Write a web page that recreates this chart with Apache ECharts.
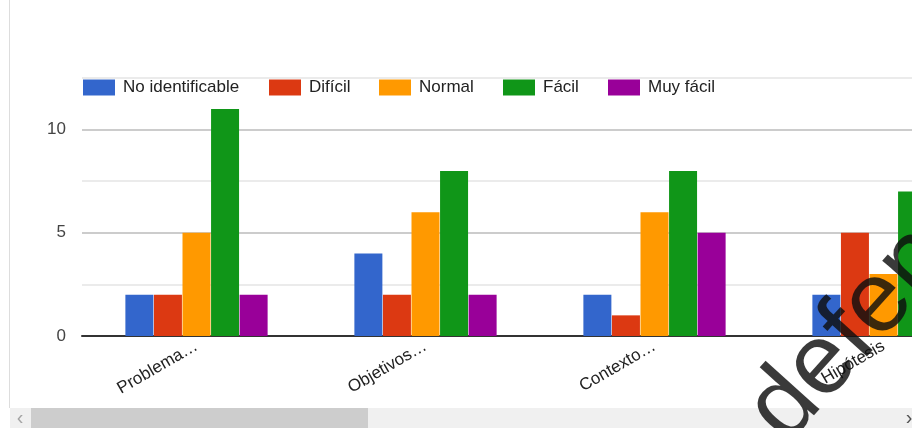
<!DOCTYPE html>
<html><head><meta charset="utf-8">
<script src="https://cdn.jsdelivr.net/npm/echarts@6/dist/echarts.min.js"></script>
<style>html,body{margin:0;padding:0;background:#fff;width:912px;height:428px;overflow:hidden}#c{width:998px;height:428px}</style>
</head><body><div id="c"></div>
<script>
const categories = ['Problema…', 'Objetivos…', 'Contexto…', 'Hipótesis'];
const seriesNames = ['No identificable', 'Difícil', 'Normal', 'Fácil', 'Muy fácil'];
const noIdentificable = [2, 4, 2, 2];
const dificil = [2, 2, 1, 5];
const normal = [5, 6, 6, 3];
const facil = [11, 8, 8, 7];
const muyFacil = [2, 2, 5, 2];
const yTicks = [0, 5, 10];
const colors = ['#3366cc', '#dc3912', '#ff9900', '#109618', '#990099'];
const values = [noIdentificable, dificil, normal, facil, muyFacil];
const legendLeft = [83, 269, 379, 503, 608];

const chart = echarts.init(document.getElementById('c'));
const th = 48 * Math.PI / 180;
chart.setOption({
  animation: false,
  color: colors,
  textStyle: { fontFamily: 'Liberation Sans, Arial, sans-serif' },
  legend: seriesNames.map((n, i) => ({
    data: [n], left: legendLeft[i], top: 79, padding: 0,
    itemWidth: 32, itemHeight: 16, icon: 'rect',
    textStyle: { fontSize: 17, color: '#222', padding: [0, 0, 0, 3] }
  })),
  grid: { left: 82, right: 0, top: 78, bottom: 92, containLabel: false },
  xAxis: {
    type: 'category', data: categories,
    axisLine: { lineStyle: { color: '#333', width: 2 } },
    axisTick: { show: false },
    axisLabel: { rotate: 30, fontSize: 17, color: '#222', margin: 9, interval: 0 }
  },
  yAxis: {
    type: 'value', min: 0, max: 12.5, interval: 2.5,
    axisLine: { show: false }, axisTick: { show: false },
    axisLabel: { fontSize: 17, color: '#444', margin: 16,
      formatter: v => (yTicks.indexOf(v) >= 0 ? String(v) : '') },
    splitLine: { lineStyle: { color: ['#cccccc', '#ebebeb'], width: 2 } }
  },
  series: seriesNames.map((n, i) => ({
    name: n, type: 'bar', data: values[i], barWidth: 28, barGap: '2%',
    barCategoryGap: '37%'
  })),
  graphic: [
    { type: 'line', shape: { x1: 9.5, y1: 0, x2: 9.5, y2: 408 }, style: { stroke: '#dddddd', lineWidth: 1 } },
    { type: 'rect', shape: { x: 10, y: 408, width: 902, height: 20 }, style: { fill: '#f0f0f0' } },
    { type: 'rect', shape: { x: 31, y: 408, width: 337, height: 20 }, style: { fill: '#cdcdcd' } },
    { type: 'text', style: { x: 20, y: 418, text: '‹', fontSize: 20, fill: '#a3a3a3', align: 'center', verticalAlign: 'middle' } },
    { type: 'text', style: { x: 909, y: 418, text: '›', fontSize: 20, fill: '#505050', align: 'center', verticalAlign: 'middle' } },
    { type: 'text', x: 636, y: 497, rotation: th, z: 100,
      style: { x: 0, y: 0, text: 'de defensa', fontSize: 100, fill: 'rgba(15,15,15,0.82)',
        align: 'left', verticalAlign: 'alphabetic', fontFamily: 'Liberation Sans, Arial, sans-serif',
        shadowBlur: 4, shadowColor: 'rgba(0,0,0,0.6)' } }
  ]
});
</script></body></html>
